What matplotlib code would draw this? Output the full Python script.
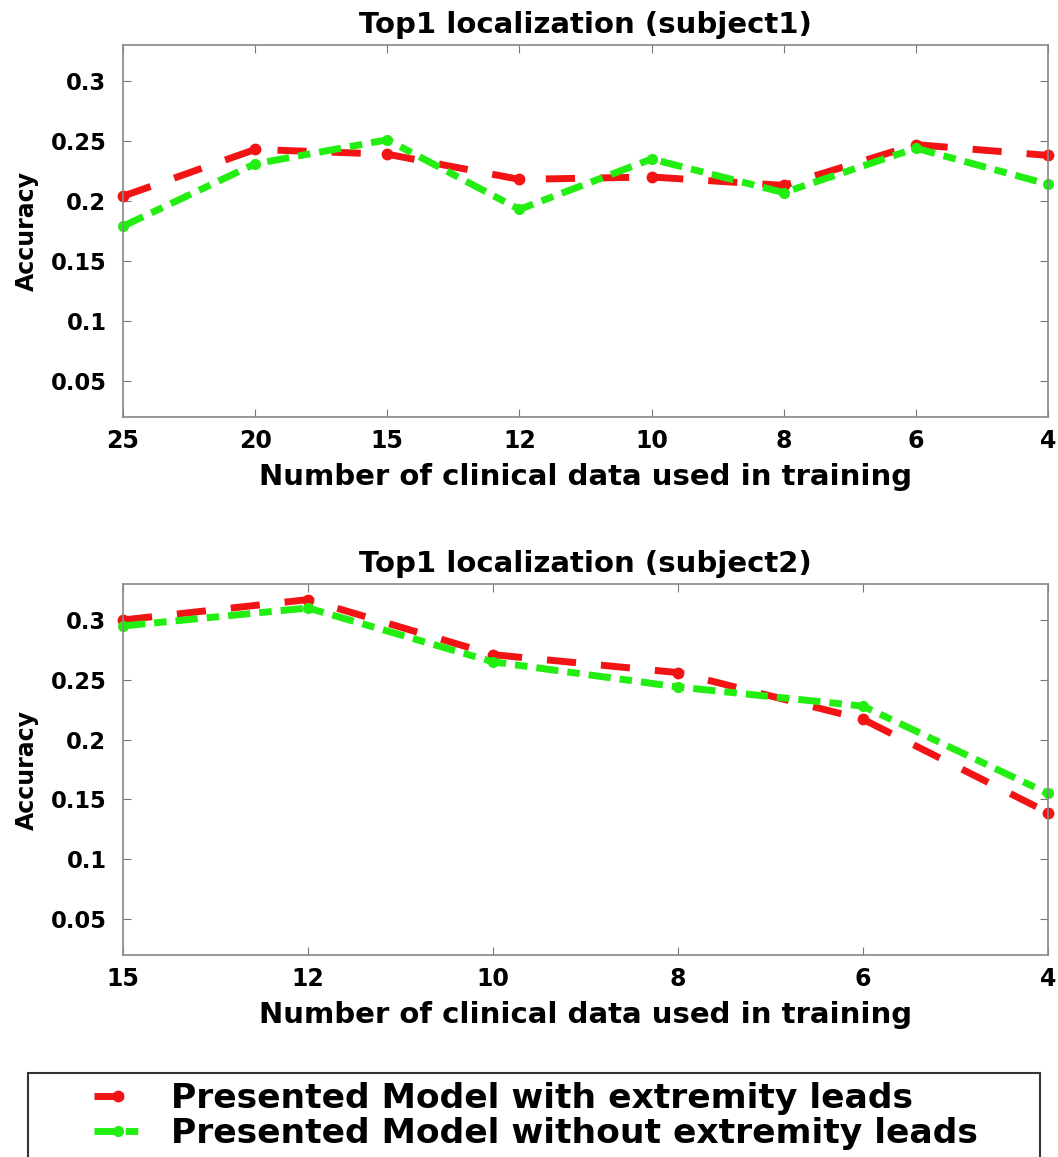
import numpy as np
import matplotlib.pyplot as plt
from matplotlib.patches import Rectangle

plt.rcParams['font.family'] = ['DejaVu Sans']
plt.rcParams['font.weight'] = 'bold'

# subject 1
x1_labels = ['25', '20', '15', '12', '10', '8', '6', '4']
s1_with = [0.204, 0.243, 0.239, 0.218, 0.220, 0.213, 0.247, 0.238]
s1_without = [0.179, 0.231, 0.251, 0.193, 0.235, 0.207, 0.244, 0.214]

# subject 2
x2_labels = ['15', '12', '10', '8', '6', '4']
s2_with = [0.300, 0.317, 0.271, 0.256, 0.217, 0.139]
s2_without = [0.295, 0.310, 0.265, 0.244, 0.228, 0.155]

titles = ['Top1 localization (subject1)', 'Top1 localization (subject2)']
names = ['Presented Model with extremity leads', 'Presented Model without extremity leads']
yticks = [0.05, 0.1, 0.15, 0.2, 0.25, 0.3]
ylabels = ['0.05', '0.1', '0.15', '0.2', '0.25', '0.3']

red = '#f21414'
green = '#22ee11'

fig = plt.figure(figsize=(10.58, 11.57), dpi=100)
ax1 = fig.add_axes([0.1163, 0.6396, 0.8742, 0.3215])
ax2 = fig.add_axes([0.1163, 0.1746, 0.8742, 0.3206])

handles = []
for ax, labels, yw, yo, title in [(ax1, x1_labels, s1_with, s1_without, titles[0]),
                                  (ax2, x2_labels, s2_with, s2_without, titles[1])]:
    xs = np.arange(len(labels))
    l1, = ax.plot(xs, yw, color=red, lw=5, ls=(0, (4.2, 3.6)), marker='o', ms=7.5,
                  dash_capstyle='butt', clip_on=False)
    l2, = ax.plot(xs, yo, color=green, lw=5, ls=(0, (3.2, 1.3, 1.8, 1.3)), marker='o', ms=7,
                  dash_capstyle='butt', clip_on=False)
    handles = [l1, l2]
    ax.set_xlim(0, len(labels) - 1)
    ax.set_ylim(0.02, 0.33)
    ax.set_xticks(xs)
    ax.set_xticklabels(labels, fontsize=17, fontweight='bold')
    ax.set_yticks(yticks)
    ax.set_yticklabels(ylabels, fontsize=16.3, fontweight='bold')
    ax.tick_params(direction='in', length=6, color='#777777', top=True, right=True)
    ax.tick_params(axis='y', pad=12)
    ax.tick_params(axis='x', pad=9)
    for s in ax.spines.values():
        s.set_color('#888888')
        s.set_linewidth(1.2)
    ax.set_title(title, fontsize=21, fontweight='bold', pad=9)
    ax.set_xlabel('Number of clinical data used in training', fontsize=21, fontweight='bold', labelpad=7)
    ax.set_ylabel('Accuracy', fontsize=17, fontweight='bold', labelpad=8)

fig.patches.append(Rectangle((0.026, -0.05), 0.957, 0.1226, transform=fig.transFigure,
                             fill=False, edgecolor='#333333', lw=1.5))
leg = fig.legend(handles, names, loc='upper left', bbox_to_anchor=(0.0755, 0.0765), frameon=False,
                 prop={'size': 24.8, 'weight': 'bold'}, handlelength=1.4, handletextpad=0.85,
                 labelspacing=0.05, borderaxespad=0)

fig.savefig('out.png', dpi=100)
